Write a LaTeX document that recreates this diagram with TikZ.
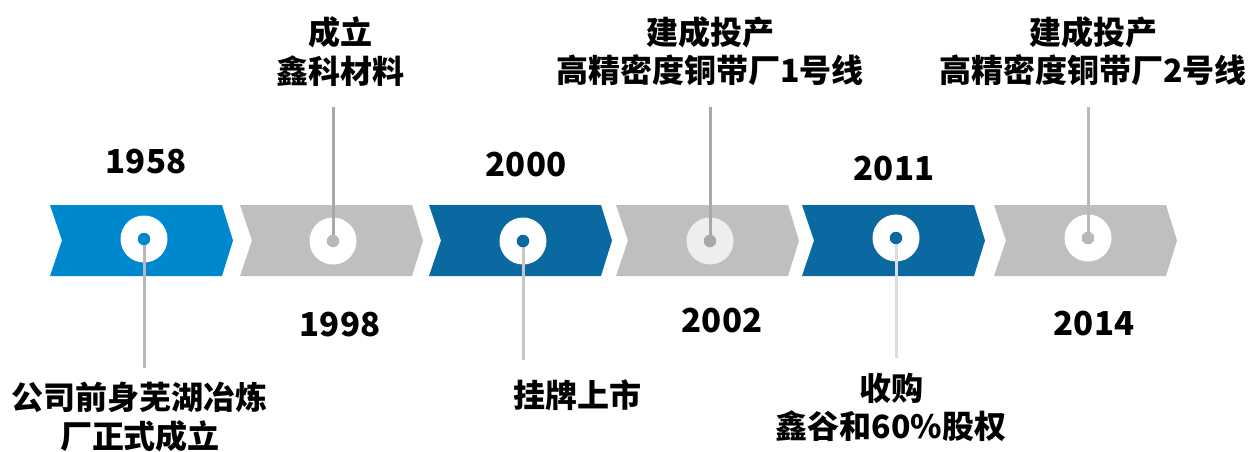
\documentclass[tikz,border=0pt]{standalone}
\usepackage{fontspec}
\newfontfamily\cjk{Noto Sans CJK SC}
\definecolor{blueA}{HTML}{0088CE}
\definecolor{blueB}{HTML}{0A69A0}
\definecolor{grayA}{HTML}{BFBFBF}
\definecolor{grayLight}{HTML}{EEEEEE}
\definecolor{lineA}{HTML}{B8B8B8}
\definecolor{lineB}{HTML}{A8A8A8}
\definecolor{lineC}{HTML}{C6C6C6}
\definecolor{lineD}{HTML}{DCDCDC}
\tikzset{
  ring/.style={circle, inner sep=0pt, minimum size=47pt},
  dot/.style={circle, inner sep=0pt, minimum size=12.5pt},
  stem/.style={line width=3pt},
  year/.style={inner sep=0pt, font=\cjk\bfseries\fontsize{33}{40}\selectfont},
  label/.style={inner sep=0pt, align=center, font=\cjk\bfseries\fontsize{32}{38.5}\selectfont}
}
\begin{document}
\begin{tikzpicture}[x=1pt,y=-1pt]
\useasboundingbox (0,0) rectangle (1253,452);
% chevrons
\foreach \L/\c in {50/blueA,240/grayA,429/blueB,616/grayA,802/blueB,994/grayA}{
  \fill[\c] (\L,205) -- (\L+172,205) -- (\L+183,240.5) -- (\L+172,276) -- (\L,276) -- (\L+12,240.5) -- cycle;
}
% rings
\node[ring, fill=white] (r1) at (144,239) {};
\node[ring, fill=white] (r2) at (333,241) {};
\node[ring, fill=white] (r3) at (523,241) {};
\node[ring, fill=grayLight] (r4) at (710,241) {};
\node[ring, fill=white] (r5) at (896,238) {};
\node[ring, fill=white] (r6) at (1088,238) {};
% stem ends
\coordinate (e1) at (144,368);
\coordinate (e2) at (333,107);
\coordinate (e3) at (523,360);
\coordinate (e4) at (710,107);
\coordinate (e5) at (896,358);
\coordinate (e6) at (1088,107);
\draw[stem, lineA] (r1.center) -- (e1);
\draw[stem, lineB] (r2.center) -- (e2);
\draw[stem, lineC] (r3.center) -- (e3);
\draw[stem, lineB] (r4.center) -- (e4);
\draw[stem, lineD] (r5.center) -- (e5);
\draw[stem, lineA] (r6.center) -- (e6);
% dots
\node[dot, fill=blueA] (d1) at (r1.center) {};
\node[dot, fill=lineA] (d2) at (r2.center) {};
\node[dot, fill=blueB] (d3) at (r3.center) {};
\node[dot, fill=lineB] (d4) at (r4.center) {};
\node[dot, fill=blueB] (d5) at (r5.center) {};
\node[dot, fill=lineA] (d6) at (r6.center) {};
% years
\node[year] (y1) at (146,162) {1958};
\node[year] (y2) at (340,325) {1998};
\node[year] (y3) at (526,165) {2000};
\node[year] (y4) at (722,321) {2002};
\node[year] (y5) at (894,169) {2011};
\node[year] (y6) at (1094,324) {2014};
% labels
\node[label] (t1) at (140,417) {公司前身芜湖冶炼\\厂正式成立};
\node[label] (t2) at (340,51.5) {成立\\鑫科材料};
\node[label, anchor=west] (t3) at (513,395) {挂牌上市};
\node[label] (t4) at (710,51) {建成投产\\高精密度铜带厂1号线};
\node[label] (t5) at (891,407.5) {收购\\鑫谷和60\%股权};
\node[label] (t6) at (1093,51) {建成投产\\高精密度铜带厂2号线};
\end{tikzpicture}
\end{document}
